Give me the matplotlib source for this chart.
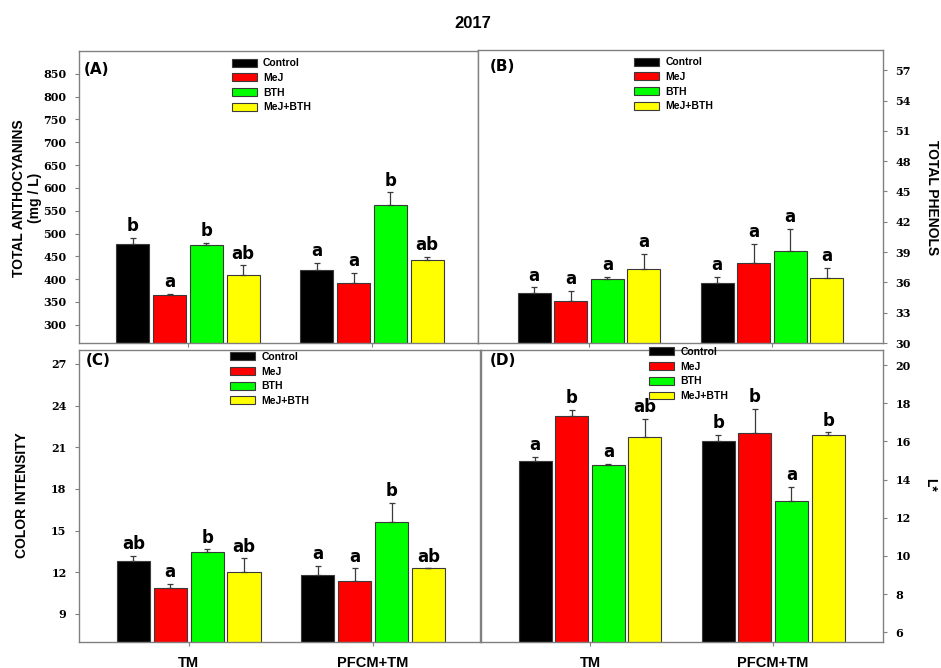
import numpy as np
import matplotlib.pyplot as plt

# treatments and vineyard groups
treatments = ['Control', 'MeJ', 'BTH', 'MeJ+BTH']
colors = ['#000000', '#ff0000', '#00ff00', '#ffff00']
groups = ['TM', 'PFCM+TM']

# (A) total anthocyanins, rows = treatments, cols = groups
antho = [[476, 421], [365, 392], [475, 563], [410, 443]]
antho_err = [[15, 15], [3, 22], [5, 27], [20, 5]]
antho_sig = [['b', 'a'], ['a', 'a'], ['b', 'b'], ['ab', 'ab']]

# (B) total phenols
phen = [[35.0, 35.9], [34.2, 37.9], [36.3, 39.1], [37.3, 36.4]]
phen_err = [[0.5, 0.65], [0.95, 1.9], [0.27, 2.2], [1.55, 1.03]]
phen_sig = [['a', 'a'], ['a', 'a'], ['a', 'a'], ['a', 'a']]

# (C) color intensity
ci = [[12.8, 11.8], [10.85, 11.4], [13.45, 15.6], [12.0, 12.27]]
ci_err = [[0.4, 0.65], [0.33, 0.88], [0.2, 1.38], [1.0, 0.0]]
ci_sig = [['ab', 'a'], ['a', 'a'], ['b', 'b'], ['ab', 'ab']]

# (D) L*
lstar = [[14.96, 16.01], [17.36, 16.45], [14.77, 12.88], [16.24, 16.36]]
lstar_err = [[0.25, 0.35], [0.3, 1.26], [0.05, 0.75], [0.94, 0.12]]
lstar_sig = [['a', 'b'], ['b', 'b'], ['a', 'a'], ['ab', 'b']]

plt.rcParams['font.family'] = ['Liberation Sans', 'DejaVu Sans']
fig = plt.figure(figsize=(9.41, 6.68), dpi=100)

spine_col = '#808080'


def panel(rect, vals, errs, sigs, ylim, yticks, xlim, tag, tag_xy, leg_xy, right=False, xlabels=False):
    ax = fig.add_axes(rect)
    x = np.arange(len(groups))
    for i, t in enumerate(treatments):
        xs = x + (i - 1.5) * 0.2
        v = np.array(vals[i])
        e = np.array(errs[i])
        ax.bar(xs, v, 0.18, color=colors[i], edgecolor='#3a3a3a', linewidth=0.8, label=t, zorder=2)
        ax.errorbar(xs, v, yerr=[np.zeros_like(e), e], fmt='none', ecolor='#3a3a3a',
                    elinewidth=0.9, capsize=2.5, capthick=0.9, zorder=3)
        for xi, top, s in zip(xs, v + e, sigs[i]):
            ax.annotate(s, (xi, top), xytext=(0, 2), textcoords='offset points',
                        ha='center', va='bottom', fontsize=12, fontweight='bold',
                        family='DejaVu Sans')
    ax.set_ylim(*ylim)
    ax.set_xlim(*xlim)
    ax.set_yticks(yticks)
    ax.set_yticklabels([str(t) for t in yticks], fontsize=8, fontweight='bold', family='DejaVu Serif')
    ax.set_xticks(x)
    if xlabels:
        ax.set_xticklabels(groups, fontsize=10.5, fontweight='bold')
    else:
        ax.set_xticklabels([])
    if right:
        ax.yaxis.tick_right()
    ax.tick_params(direction='out', length=3, width=0.8, color=spine_col, pad=6)
    ax.tick_params(axis='x', pad=7)
    for sp in ax.spines.values():
        sp.set_color(spine_col)
        sp.set_linewidth(1.0)
    ax.text(tag_xy[0], tag_xy[1], tag, transform=ax.transAxes, ha='left', va='center',
            fontsize=11, fontweight='bold', family='DejaVu Sans')
    ax.legend(loc='upper left', bbox_to_anchor=leg_xy, frameon=False,
              prop={'weight': 'bold', 'size': 7.5}, borderpad=0, borderaxespad=0,
              handlelength=2.4, handleheight=0.8, handletextpad=0.6, labelspacing=0.45)
    return ax


panel([0.0840, 0.4865, 0.4240, 0.4371], antho, antho_err, antho_sig, (260, 900),
      list(range(300, 851, 50)), (-0.592, 1.576), '(A)', (0.012, 0.938), (0.383, 0.975))
panel([0.5080, 0.4865, 0.4304, 0.4386], phen, phen_err, phen_sig, (30, 59),
      list(range(30, 58, 3)), (-0.607, 1.607), '(B)', (0.03, 0.945), (0.385, 0.975), right=True)
panel([0.0840, 0.0394, 0.4261, 0.4367], ci, ci_err, ci_sig, (7, 28),
      list(range(9, 28, 3)), (-0.595, 1.58), '(C)', (0.017, 0.963), (0.377, 0.993), xlabels=True)
panel([0.5112, 0.0394, 0.4272, 0.4367], lstar, lstar_err, lstar_sig, (5.5, 20.8),
      list(range(6, 21, 2)), (-0.595, 1.6), '(D)', (0.022, 0.963), (0.418, 1.01),
      right=True, xlabels=True)

# titles and axis names
fig.text(473 / 941, 1 - 23 / 668, '2017', ha='center', va='center', fontsize=12, fontweight='bold')
fig.text(27 / 941, 1 - 198 / 668, 'TOTAL ANTHOCYANINS\n(mg / L)', ha='center', va='center',
         rotation=90, fontsize=10, fontweight='bold', linespacing=1.15)
fig.text(932 / 941, 1 - 198 / 668, 'TOTAL PHENOLS', ha='center', va='center',
         rotation=270, fontsize=10, fontweight='bold')
fig.text(22 / 941, 1 - 495 / 668, 'COLOR INTENSITY', ha='center', va='center',
         rotation=90, fontsize=10, fontweight='bold')
fig.text(930 / 941, 1 - 485 / 668, 'L*', ha='center', va='center',
         rotation=270, fontsize=10, fontweight='bold')

fig.savefig('out.png', dpi=100)
